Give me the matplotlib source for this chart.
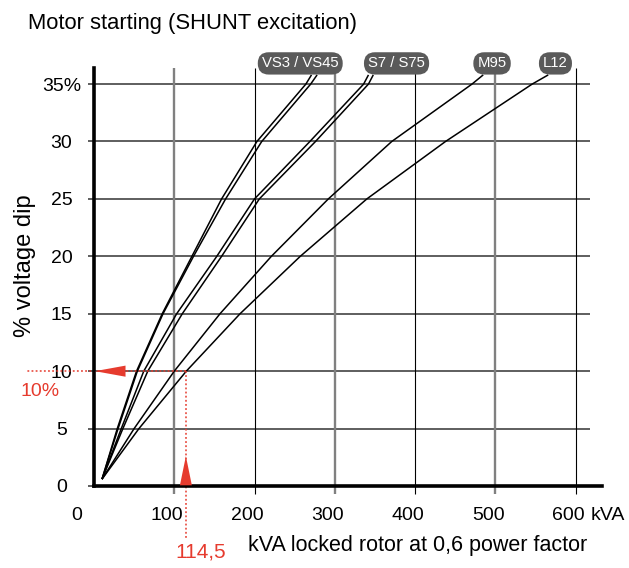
import matplotlib
matplotlib.use("Agg")
import matplotlib.pyplot as plt

plt.rcParams['font.family'] = ['Liberation Sans', 'DejaVu Sans']

# % voltage dip at which each curve was read
dip = [0.6, 5, 10, 15, 20, 25, 30, 35, 35.8]

# kVA locked rotor for each generator curve
vs3 = [10, 29, 53, 85, 122, 159, 203, 264, 271]
vs45 = [10, 30, 54, 86, 124, 164, 209, 270, 278]
s7 = [10, 34, 62, 103, 153, 200, 269, 336, 342]
s75 = [10, 36, 67, 110, 159, 206, 276, 342, 348]
m95 = [10, 50, 100, 157, 221, 292, 371, 471, 485]
l12 = [10, 56, 115, 182, 257, 340, 438, 546, 566]

series_labels = ['VS3 / VS45', 'S7 / S75', 'M95', 'L12']
label_x = [257, 377, 496, 575]

x_ticks = [0, 100, 200, 300, 400, 500, 600]
y_ticks = [0, 5, 10, 15, 20, 25, 30, 35]
y_tick_labels = ['0', '5', '10', '15', '20', '25', '30', '35%']

example_kva = 114.5
example_dip = 10

red = '#e63b2e'

fig = plt.figure(figsize=(6.29, 5.68), dpi=100)
ax = fig.add_axes([94 / 629, 82 / 568, 508 / 629, 418 / 568])
ax.set_xlim(0, 633)
ax.set_ylim(0, 36.4)

for s in ['top', 'right']:
    ax.spines[s].set_visible(False)
for s in ['left', 'bottom']:
    ax.spines[s].set_linewidth(2.6)
    ax.spines[s].set_zorder(5)

# grid: horizontal dark lines, vertical alternating grey / black
ax.hlines(y_ticks, -7, 618, colors='#333333', lw=1.1, zorder=1, clip_on=False)
for i, xv in enumerate(x_ticks[1:]):
    if i % 2 == 0:
        ax.vlines(xv, -0.7, 36.4, colors='#808080', lw=1.7, zorder=1, clip_on=False)
    else:
        ax.vlines(xv, -0.7, 36.4, colors='black', lw=0.8, zorder=1, clip_on=False)

for kva in [vs3, vs45, s7, s75, m95, l12]:
    ax.plot(kva, dip, color='black', lw=1.1, zorder=3, solid_capstyle='butt')

ax.set_xticks(x_ticks)
ax.set_xticklabels([str(v) for v in x_ticks])
ax.set_yticks(y_ticks)
ax.set_yticklabels(y_tick_labels)
ax.tick_params(axis='both', length=0, labelsize=14)
ax.tick_params(axis='x', pad=15)
ax.tick_params(axis='y', pad=23.4)
for lab in ax.get_yticklabels():
    lab.set_horizontalalignment('center')

from matplotlib.transforms import ScaledTranslation
for v, lab in zip(x_ticks, ax.get_xticklabels()):
    dx = -17 if v == 0 else -7
    lab.set_transform(lab.get_transform() + ScaledTranslation(dx / 100, 0, fig.dpi_scale_trans))

ax.annotate('kVA', xy=(618.5, 0), xytext=(0, -21), textcoords='offset pixels',
            ha='left', va='top', fontsize=14, annotation_clip=False)

for name, xv in zip(series_labels, label_x):
    ax.text(xv, 36.8, name, ha='center', va='center', color='white', fontsize=10.7,
            zorder=6, clip_on=False,
            bbox=dict(boxstyle='round,pad=0.28,rounding_size=0.74', fc='#5a5a5a', ec='none'))

# red example: 10 % dip -> 114,5 kVA
ax.plot([example_kva, example_kva], [example_dip, -4.7], color=red, lw=1.1,
        ls=(0, (1.2, 1.5)), zorder=4, clip_on=False)
ax.plot([example_kva, -85], [example_dip, example_dip], color=red, lw=1.1,
        ls=(0, (1.2, 1.5)), zorder=4, clip_on=False)
ax.annotate('', xy=(example_kva, 2.6), xytext=(example_kva, 0),
            arrowprops=dict(arrowstyle='-|>,head_length=2.1,head_width=0.43', mutation_scale=10,
                            color=red, lw=0, shrinkA=0, shrinkB=0),
            annotation_clip=False, zorder=6)
ax.annotate('', xy=(1.2, example_dip), xytext=(40, example_dip),
            arrowprops=dict(arrowstyle='-|>,head_length=2.2,head_width=0.4', mutation_scale=10,
                            color=red, lw=0, shrinkA=0, shrinkB=0),
            annotation_clip=False, zorder=6)
ax.annotate('114,5', xy=(example_kva, 0), xytext=(14.5, -72), textcoords='offset pixels',
            ha='center', va='baseline', color=red, fontsize=15, annotation_clip=False)
ax.annotate('10%', xy=(0, example_dip), xytext=(-54, -25), textcoords='offset pixels',
            ha='center', va='baseline', color=red, fontsize=14, annotation_clip=False)

fig.text(28 / 629, 1 - 29 / 568, 'Motor starting (SHUNT excitation)', fontsize=15.8, va='baseline')
fig.text(25 / 629, 1 - 266 / 568, '% voltage dip', rotation=90, ha='center', va='center', fontsize=17)
fig.text(248 / 629, 17 / 568, 'kVA locked rotor at 0,6 power factor', fontsize=15.5, va='baseline')

fig.savefig('out.png', dpi=100)
